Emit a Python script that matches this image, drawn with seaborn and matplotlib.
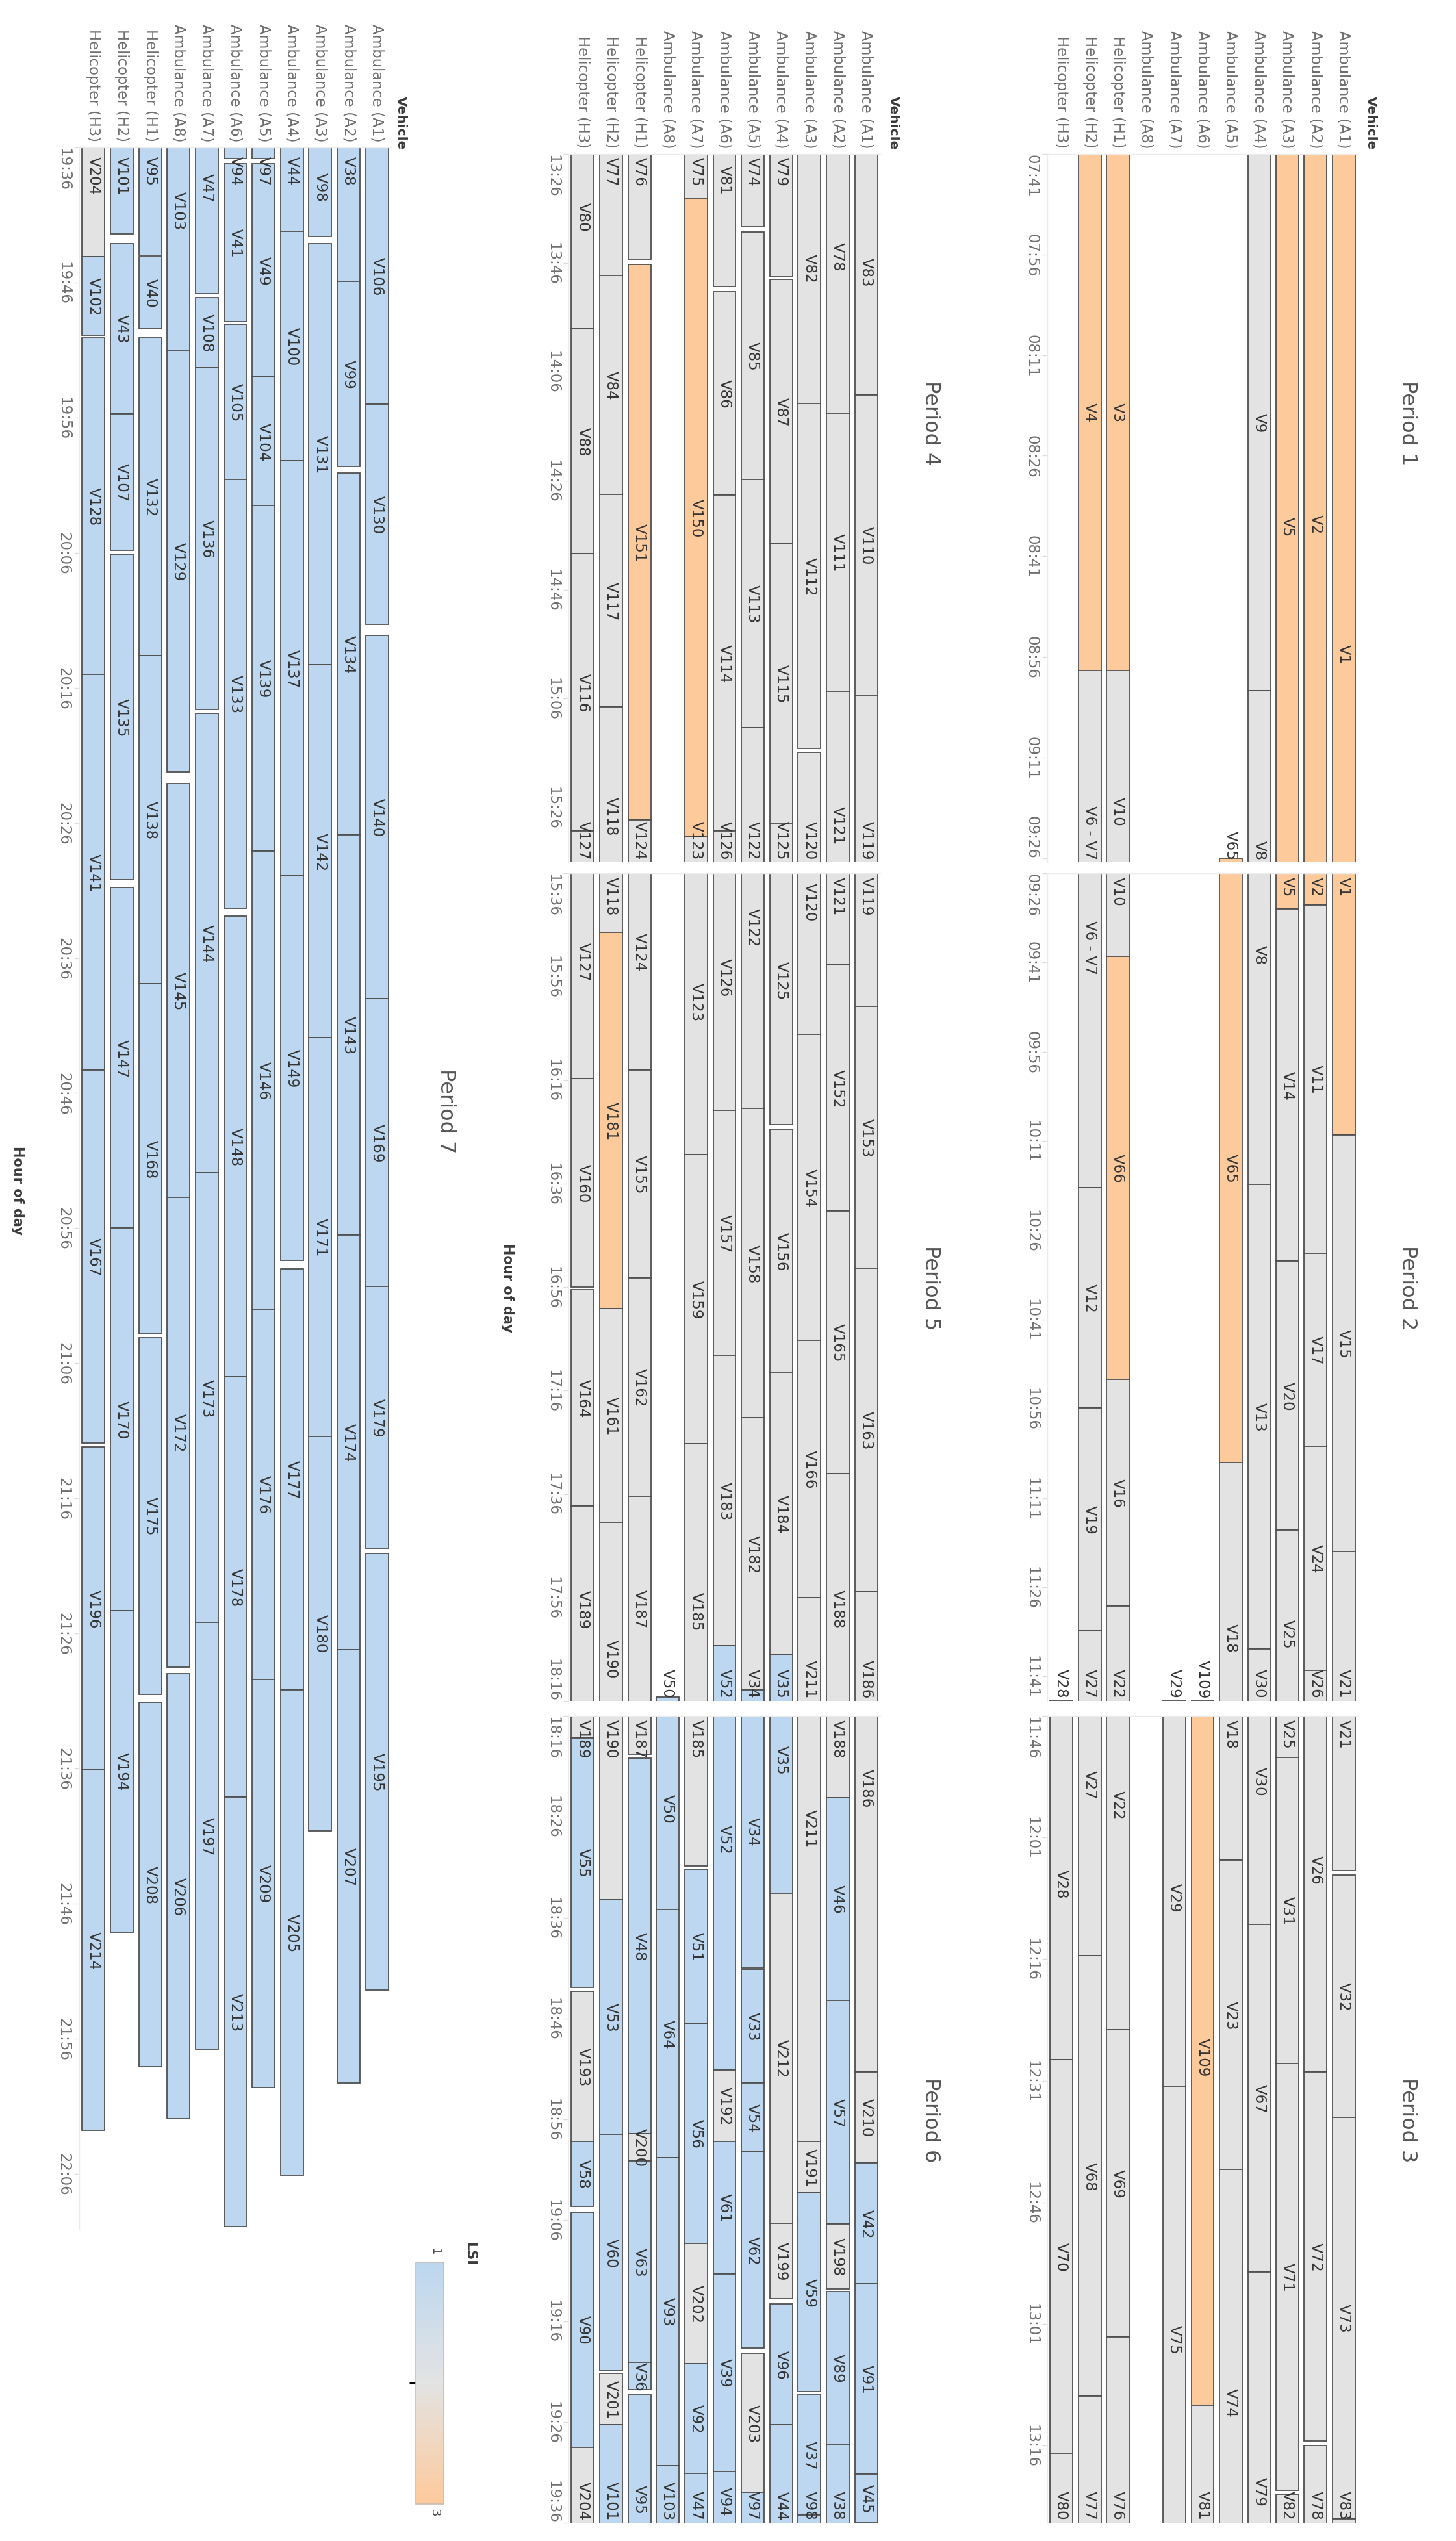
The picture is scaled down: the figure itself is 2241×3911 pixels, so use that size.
import numpy as np
import pandas as pd
import matplotlib
matplotlib.use("Agg")
import matplotlib.pyplot as plt
import seaborn as sns
from matplotlib.colors import Normalize
from matplotlib.cm import ScalarMappable

sns.set_theme(style="white")
plt.rcParams['font.family'] = ['DejaVu Sans']

# ---------------- data ----------------
VEHICLE_CODES = ["A1", "A2", "A3", "A4", "A5", "A6", "A7", "A8", "H1", "H2", "H3"]
VEHICLE_NAMES = ["Ambulance (A1)", "Ambulance (A2)", "Ambulance (A3)", "Ambulance (A4)",
                 "Ambulance (A5)", "Ambulance (A6)", "Ambulance (A7)", "Ambulance (A8)",
                 "Helicopter (H1)", "Helicopter (H2)", "Helicopter (H3)"]

PERIODS = ["Period 1", "Period 2", "Period 3", "Period 4", "Period 5", "Period 6", "Period 7"]
PERIOD_START = ["07:41", "09:26", "11:46", "13:26", "15:36", "18:16", "19:36"]
PERIOD_END = ["09:26.6", "11:45.1", "13:25.5", "15:36", "18:16", "19:36", "22:10.1"]
TICK_FIRST = ["07:41", "09:26", "11:46", "13:26", "15:36", "18:16", "19:36"]
TICK_LAST = ["09:26", "11:41", "13:16", "15:26", "18:16", "19:36", "22:06"]
TICK_STEP = [15, 15, 15, 20, 20, 10, 10]
LSI_LEVELS = [1, 2, 3]

# (vehicle, task, start, end, LSI)
P1_TASKS = [
    ("A1", "V1", "07:41", "10:10", 3),
    ("A2", "V2", "07:41", "09:31.3", 3),
    ("A3", "V5", "07:41", "09:32", 3),
    ("A4", "V9", "07:41", "09:01", 2),
    ("A4", "V8", "09:01", "10:18.3", 2),
    ("H1", "V3", "07:41", "08:58", 3),
    ("H1", "V10", "08:58", "09:40", 2),
    ("H2", "V4", "07:41", "08:58", 3),
    ("H2", "V6 - V7", "08:58", "10:18.8", 2),
]
P2_TASKS = [
    ("A1", "V15", "10:10", "11:20", 2),
    ("A1", "V21", "11:20", "12:05.1", 2),
    ("A2", "V11", "09:31.3", "10:29.9", 2),
    ("A2", "V17", "10:29.9", "11:02.3", 2),
    ("A2", "V24", "11:02.3", "11:40", 2),
    ("A2", "V26", "11:40", "12:29.9", 2),
    ("A3", "V14", "09:32", "10:31.2", 2),
    ("A3", "V20", "10:31.2", "11:16.4", 2),
    ("A3", "V25", "11:16.4", "11:51.1", 2),
    ("A4", "V13", "10:18.3", "11:36.4", 2),
    ("A4", "V30", "11:36.4", "12:11.7", 2),
    ("A5", "V65", "09:26", "11:05", 3),
    ("A5", "V18", "11:05", "12:03.8", 2),
    ("A6", "V109", "11:45", "13:11", 3),
    ("A7", "V29", "11:45", "12:31.7", 2),
    ("H1", "V66", "09:40", "10:51", 3),
    ("H1", "V16", "10:51", "11:29.2", 2),
    ("H1", "V22", "11:29.2", "12:24.7", 2),
    ("H2", "V12", "10:18.8", "10:55.9", 2),
    ("H2", "V19", "10:55.9", "11:33.3", 2),
    ("H2", "V27", "11:33.3", "12:15.6", 2),
    ("H3", "V28", "11:45", "12:28.4", 2),
]
P3_TASKS = [
    ("A1", "V32", "12:05.6", "12:35.5", 2),
    ("A1", "V73", "12:35.5", "13:25", 2),
    ("A1", "V83", "13:25", "14:10.3", 2),
    ("A2", "V72", "12:29.9", "13:15.4", 2),
    ("A2", "V78", "13:16", "14:13.6", 2),
    ("A3", "V31", "11:51.1", "12:28.9", 2),
    ("A3", "V71", "12:28.9", "13:21.5", 2),
    ("A3", "V82", "13:22", "14:11.8", 2),
    ("A4", "V67", "12:11.7", "12:54.6", 2),
    ("A4", "V79", "12:54.6", "13:48.6", 2),
    ("A5", "V23", "12:03.8", "12:41.9", 2),
    ("A5", "V74", "12:41.9", "13:39.3", 2),
    ("A6", "V81", "13:11", "13:50.3", 2),
    ("A7", "V75", "12:31.7", "13:34.1", 2),
    ("H1", "V69", "12:24.7", "13:02.6", 2),
    ("H1", "V76", "13:02.6", "13:45.3", 2),
    ("H2", "V68", "12:15.6", "13:09.9", 2),
    ("H2", "V77", "13:09.9", "13:48.3", 2),
    ("H3", "V70", "12:28.4", "13:16.9", 2),
    ("H3", "V80", "13:16.9", "13:58.1", 2),
]
P4_TASKS = [
    ("A1", "V110", "14:10.3", "15:05.3", 2),
    ("A1", "V119", "15:05.3", "16:01.8", 2),
    ("A2", "V111", "14:13.6", "15:04.6", 2),
    ("A2", "V121", "15:04.6", "15:53.7", 2),
    ("A3", "V112", "14:11.8", "15:15.1", 2),
    ("A3", "V120", "15:15.8", "16:07.1", 2),
    ("A4", "V87", "13:49", "14:37.5", 2),
    ("A4", "V115", "14:37.5", "15:28.8", 2),
    ("A4", "V125", "15:28.8", "16:24.6", 2),
    ("A5", "V85", "13:40.3", "14:25.8", 2),
    ("A5", "V113", "14:25.8", "15:11.3", 2),
    ("A5", "V122", "15:11.3", "16:21.5", 2),
    ("A6", "V86", "13:51.3", "14:28.6", 2),
    ("A6", "V114", "14:28.6", "15:30.3", 2),
    ("A6", "V126", "15:30.3", "16:21.8", 2),
    ("A7", "V150", "13:34.1", "15:31.3", 3),
    ("A7", "V123", "15:31.3", "16:30.4", 2),
    ("H1", "V151", "13:46.3", "15:28.3", 3),
    ("H1", "V124", "15:28.3", "16:14.1", 2),
    ("H2", "V84", "13:48.3", "14:28.5", 2),
    ("H2", "V117", "14:28.5", "15:07.5", 2),
    ("H2", "V118", "15:07.5", "15:47.4", 2),
    ("H3", "V88", "13:58.1", "14:39.3", 2),
    ("H3", "V116", "14:39.3", "15:30.3", 2),
    ("H3", "V127", "15:30.3", "16:15.7", 2),
]
P5_TASKS = [
    ("A1", "V153", "16:01.8", "16:52.3", 2),
    ("A1", "V163", "16:52.3", "17:54.9", 2),
    ("A1", "V186", "17:54.9", "18:51.3", 2),
    ("A2", "V152", "15:53.7", "16:41.3", 2),
    ("A2", "V165", "16:41.3", "17:32.1", 2),
    ("A2", "V188", "17:32.1", "18:24.1", 2),
    ("A3", "V154", "16:07.1", "17:06.3", 2),
    ("A3", "V166", "17:06.3", "17:56", 2),
    ("A3", "V211", "17:56", "18:58.2", 2),
    ("A4", "V156", "16:25.5", "17:12.5", 2),
    ("A4", "V184", "17:12.5", "18:07.1", 2),
    ("A4", "V35", "18:07.1", "18:33.6", 1),
    ("A5", "V158", "16:21.5", "17:21.3", 2),
    ("A5", "V182", "17:21.3", "18:13.9", 2),
    ("A5", "V34", "18:13.9", "18:41", 1),
    ("A6", "V157", "16:21.8", "17:09.2", 2),
    ("A6", "V183", "17:09.2", "18:05.3", 2),
    ("A6", "V52", "18:05.3", "18:51.1", 1),
    ("A7", "V159", "16:30.4", "17:26.3", 2),
    ("A7", "V185", "17:26.3", "18:30.9", 2),
    ("A8", "V50", "18:15.2", "18:35.2", 1),
    ("H1", "V155", "16:14.1", "16:54.2", 2),
    ("H1", "V162", "16:54.2", "17:36.5", 2),
    ("H1", "V187", "17:36.5", "18:19.8", 2),
    ("H2", "V181", "15:47.4", "17:00.2", 3),
    ("H2", "V161", "17:00.2", "17:41.5", 2),
    ("H2", "V190", "17:41.5", "18:34.2", 2),
    ("H3", "V160", "16:15.7", "16:56", 2),
    ("H3", "V164", "16:56.5", "17:38.3", 2),
    ("H3", "V189", "17:38.3", "18:18.2", 2),
]
P6_TASKS = [
    ("A1", "V210", "18:51.3", "19:00.3", 2),
    ("A1", "V42", "19:00.3", "19:12.3", 1),
    ("A1", "V91", "19:12.3", "19:31.2", 1),
    ("A1", "V45", "19:31.2", "19:36", 1),
    ("A2", "V46", "18:24.1", "18:44.2", 1),
    ("A2", "V57", "18:44.2", "19:06.4", 1),
    ("A2", "V198", "19:06.4", "19:12.8", 2),
    ("A2", "V89", "19:13.1", "19:28.2", 1),
    ("A2", "V38", "19:28.2", "19:45.9", 1),
    ("A3", "V191", "18:58.2", "19:03.3", 2),
    ("A3", "V59", "19:03.3", "19:23", 1),
    ("A3", "V37", "19:23.3", "19:35.2", 1),
    ("A3", "V98", "19:35.2", "19:42.6", 1),
    ("A4", "V212", "18:33.6", "19:06.3", 2),
    ("A4", "V199", "19:06.3", "19:13.8", 2),
    ("A4", "V96", "19:14.3", "19:26.3", 1),
    ("A4", "V44", "19:26.3", "19:42.2", 1),
    ("A5", "V33", "18:41.1", "18:52.4", 1),
    ("A5", "V54", "18:52.4", "18:59.2", 1),
    ("A5", "V62", "18:59.2", "19:18.7", 1),
    ("A5", "V203", "19:19.2", "19:33", 2),
    ("A5", "V97", "19:33", "19:36.8", 1),
    ("A6", "V192", "18:51.1", "18:58.2", 2),
    ("A6", "V61", "18:58.2", "19:11.3", 1),
    ("A6", "V39", "19:11.3", "19:30.9", 1),
    ("A6", "V94", "19:30.9", "19:36.8", 1),
    ("A7", "V51", "18:31.2", "18:46.5", 1),
    ("A7", "V56", "18:46.5", "19:08.3", 1),
    ("A7", "V202", "19:08.3", "19:20.2", 2),
    ("A7", "V92", "19:20.2", "19:31.1", 1),
    ("A7", "V47", "19:31.1", "19:46.8", 1),
    ("A8", "V64", "18:35.2", "18:59.8", 1),
    ("A8", "V93", "18:59.8", "19:30.3", 1),
    ("A8", "V103", "19:30.3", "19:51", 1),
    ("H1", "V48", "18:20.2", "18:57.4", 1),
    ("H1", "V200", "18:57.4", "19:00.1", 2),
    ("H1", "V63", "19:00.1", "19:20.1", 1),
    ("H1", "V36", "19:20.1", "19:22.8", 1),
    ("H1", "V95", "19:23.3", "19:44", 1),
    ("H2", "V53", "18:34.2", "18:57.5", 1),
    ("H2", "V60", "18:57.5", "19:20.9", 1),
    ("H2", "V201", "19:21.2", "19:26.3", 2),
    ("H2", "V101", "19:26.3", "19:42.4", 1),
    ("H3", "V55", "18:18.2", "18:42.9", 1),
    ("H3", "V193", "18:43.3", "18:58.2", 2),
    ("H3", "V58", "18:58.2", "19:04.6", 1),
    ("H3", "V90", "19:05.2", "19:28.5", 1),
    ("H3", "V204", "19:28.5", "19:44.1", 2),
]
P7_TASKS = [
    ("A1", "V106", "19:36", "19:55", 1),
    ("A1", "V130", "19:55", "20:11.3", 1),
    ("A1", "V140", "20:12.1", "20:39", 1),
    ("A1", "V169", "20:39", "21:00.3", 1),
    ("A1", "V179", "21:00.3", "21:19.7", 1),
    ("A1", "V195", "21:20.1", "21:52.4", 1),
    ("A2", "V99", "19:45.9", "19:59.6", 1),
    ("A2", "V134", "20:00.1", "20:26.9", 1),
    ("A2", "V143", "20:26.9", "20:56.5", 1),
    ("A2", "V174", "20:56.5", "21:27.2", 1),
    ("A2", "V207", "21:27.2", "21:59.3", 1),
    ("A3", "V131", "19:43.1", "20:14.3", 1),
    ("A3", "V142", "20:14.3", "20:41.9", 1),
    ("A3", "V171", "20:41.9", "21:11.4", 1),
    ("A3", "V180", "21:11.4", "21:40.6", 1),
    ("A4", "V100", "19:42.2", "19:59.2", 1),
    ("A4", "V137", "19:59.2", "20:29.9", 1),
    ("A4", "V149", "20:29.9", "20:58.4", 1),
    ("A4", "V177", "20:59", "21:30.2", 1),
    ("A4", "V205", "21:30.2", "22:06.1", 1),
    ("A5", "V49", "19:37.2", "19:53", 1),
    ("A5", "V104", "19:53", "20:02.5", 1),
    ("A5", "V139", "20:02.5", "20:28.1", 1),
    ("A5", "V146", "20:28.1", "21:02", 1),
    ("A5", "V176", "21:02", "21:29.4", 1),
    ("A5", "V209", "21:29.4", "21:59.6", 1),
    ("A6", "V41", "19:37.2", "19:48.9", 1),
    ("A6", "V105", "19:49.1", "20:00.6", 1),
    ("A6", "V133", "20:00.6", "20:32.3", 1),
    ("A6", "V148", "20:32.9", "21:07", 1),
    ("A6", "V178", "21:07", "21:38.1", 1),
    ("A6", "V213", "21:38.1", "22:09.9", 1),
    ("A7", "V108", "19:47.1", "19:52.3", 1),
    ("A7", "V136", "19:52.3", "20:17.6", 1),
    ("A7", "V144", "20:17.9", "20:51.9", 1),
    ("A7", "V173", "20:51.9", "21:25.2", 1),
    ("A7", "V197", "21:25.2", "21:56.8", 1),
    ("A8", "V129", "19:51", "20:22.2", 1),
    ("A8", "V145", "20:23.1", "20:53.7", 1),
    ("A8", "V172", "20:53.7", "21:28.5", 1),
    ("A8", "V206", "21:29", "22:01.9", 1),
    ("H1", "V40", "19:44.1", "19:49.4", 1),
    ("H1", "V132", "19:50.1", "20:13.6", 1),
    ("H1", "V138", "20:13.6", "20:37.9", 1),
    ("H1", "V168", "20:37.9", "21:03.8", 1),
    ("H1", "V175", "21:04.1", "21:30.5", 1),
    ("H1", "V208", "21:31.1", "21:58.1", 1),
    ("H2", "V43", "19:43.1", "19:55.7", 1),
    ("H2", "V107", "19:55.7", "20:05.8", 1),
    ("H2", "V135", "20:06.1", "20:30.2", 1),
    ("H2", "V147", "20:30.8", "20:56", 1),
    ("H2", "V170", "20:56", "21:24.3", 1),
    ("H2", "V194", "21:24.3", "21:48.1", 1),
    ("H3", "V102", "19:44.1", "19:49.9", 1),
    ("H3", "V128", "19:50.1", "20:15", 1),
    ("H3", "V141", "20:15", "20:44.3", 1),
    ("H3", "V167", "20:44.3", "21:11.9", 1),
    ("H3", "V196", "21:12.2", "21:36.1", 1),
    ("H3", "V214", "21:36.1", "22:02.8", 1),
]


def tmin(s):
    h, m = s.split(":")
    return int(h) * 60 + float(m)


def fmt(v):
    v = int(round(v))
    return f"{v // 60:02d}:{v % 60:02d}"


tasks = pd.DataFrame(P1_TASKS + P2_TASKS + P3_TASKS + P4_TASKS + P5_TASKS + P6_TASKS + P7_TASKS,
                     columns=["vehicle", "task", "start", "end", "lsi"])
tasks["s"] = tasks["start"].map(tmin)
tasks["e"] = tasks["end"].map(tmin)
# x position: A1 at the right, H3 at the left
tasks["x"] = tasks["vehicle"].map(lambda v: 10 - VEHICLE_CODES.index(v))

cmap = sns.blend_palette(["#BCD7EF", "#E3E3E3", "#FDCA9C"], as_cmap=True)
norm = Normalize(vmin=min(LSI_LEVELS), vmax=max(LSI_LEVELS))

# ---------------- layout (pixels of the 2241x3912 canvas) ----------------
W, H = 2241, 3912


def rect(x0, y0, x1, y1):
    return [x0 / W, 1 - y1 / H, (x1 - x0) / W, (y1 - y0) / H]


PANEL_BOX = [(1612, 238, 2090, 1328), (1612, 1345, 2090, 2619), (1612, 2642, 2090, 3884),
             (875, 238, 1355, 1328), (875, 1345, 1355, 2619), (875, 2642, 1355, 3884),
             (122, 228, 602, 3432)]
TITLE_XY = [(2166, 651), (2166, 1982), (2166, 3263), (1432, 651), (1432, 1982), (1432, 3263),
            (686, 1710)]
SHOW_VEHICLES = [True, False, False, True, False, False, True]

fig = plt.figure(figsize=(W / 100, H / 100), dpi=100)
fig.patch.set_facecolor("white")

TXT = "#333333"
GREY = "#6e6e6e"
LABEL_FS = 16.5
CHAR_PX = 0.64 * LABEL_FS * 100 / 72  # approx width of one label character, px

for i in range(7):
    x0, y0, x1, y1 = PANEL_BOX[i]
    ax = fig.add_axes(rect(x0, y0, x1, y1))
    ax.set_facecolor("white")
    lo, hi = tmin(PERIOD_START[i]), tmin(PERIOD_END[i])
    ppm = (y1 - y0) / (hi - lo)
    vis = tasks[(tasks["e"] > lo) & (tasks["s"] < hi)]
    ax.bar(vis["x"], vis["e"] - vis["s"], bottom=vis["s"], width=0.8,
           color=[cmap(norm(v)) for v in vis["lsi"]], edgecolor="#505050", linewidth=1.3)
    pad = (hi - lo) * 0.004
    for _, r in vis.iterrows():
        c = (r["s"] + r["e"]) / 2
        half = len(r["task"]) * CHAR_PX / 2 / ppm + pad
        if c - half < lo:
            y, ha = lo + pad, "left"
        elif c + half > hi:
            y, ha = hi - pad, "right"
        else:
            y, ha = c, "center"
        ax.text(r["x"], y, r["task"], rotation=-90, rotation_mode="anchor", ha=ha, va="center",
                fontsize=LABEL_FS, color=TXT, clip_on=True)
    ax.set_xlim(-0.5, 10.5)
    ax.set_ylim(hi, lo)
    ticks = np.arange(tmin(TICK_FIRST[i]), tmin(TICK_LAST[i]) + 0.01, TICK_STEP[i])
    ax.set_yticks(ticks)
    ax.set_yticklabels([fmt(t) for t in ticks], rotation=-90, va="center", ha="right",
                       fontsize=16.5, color=GREY)
    for t, lab in zip(ticks, ax.get_yticklabels()):
        if t - lo < 3:
            lab.set_va("top")
        elif hi - t < 3:
            lab.set_va("bottom")
    ax.tick_params(axis="y", left=True, length=6, width=1, color="#dddddd", pad=3)
    if SHOW_VEHICLES[i]:
        ax.xaxis.tick_top()
        ax.set_xticks(range(11))
        ax.set_xticklabels(VEHICLE_NAMES[::-1], rotation=-90, fontsize=16.3, color=GREY)
        ax.tick_params(axis="x", length=0, pad=7)
    else:
        ax.set_xticks([])
    for side in ["right", "bottom"]:
        ax.spines[side].set_visible(False)
    for side in ["left", "top"]:
        ax.spines[side].set_color("#ebebeb")
        ax.spines[side].set_linewidth(1)
    ax.grid(False)
    tx, ty = TITLE_XY[i]
    fig.text(tx / W, 1 - ty / H, PERIODS[i], rotation=-90, ha="center", va="center",
             fontsize=23, color="#555555")

# "Vehicle" headers
for hx in [2110, 1375, 617]:
    fig.text(hx / W, 1 - 230 / H, "Vehicle", rotation=-90, ha="center", va="bottom",
             fontsize=14.5, fontweight="bold", color="#3a3a3a")

# axis titles
fig.text(781 / W, 1 - 1982 / H, "Hour of day", rotation=-90, ha="center", va="center",
         fontsize=15, fontweight="bold", color="#3a3a3a")
fig.text(27 / W, 1 - 1832 / H, "Hour of day", rotation=-90, ha="center", va="center",
         fontsize=15, fontweight="bold", color="#3a3a3a")

# LSI legend
cax = fig.add_axes(rect(640, 3483, 683, 3855))
cb = fig.colorbar(ScalarMappable(norm=norm, cmap=cmap), cax=cax, orientation="vertical")
cax.invert_yaxis()
cb.set_ticks([2])
cax.yaxis.set_ticks_position("left")
cax.tick_params(axis="y", length=7, width=2.2, color="black", labelleft=False, labelright=False)
cb.outline.set_edgecolor("#c9bcae")
cb.outline.set_linewidth(1.2)
fig.text(669 / W, 1 - 3466 / H, "1", rotation=-90, ha="center", va="center", fontsize=13,
         color="#444444")
fig.text(669 / W, 1 - 3868 / H, "3", rotation=-90, ha="center", va="center", fontsize=13,
         color="#444444")
fig.text(723 / W, 1 - 3469 / H, "LSI", rotation=-90, ha="center", va="center", fontsize=15,
         fontweight="bold", color="#3a3a3a")

fig.savefig("out.png", dpi=100, facecolor="white")
